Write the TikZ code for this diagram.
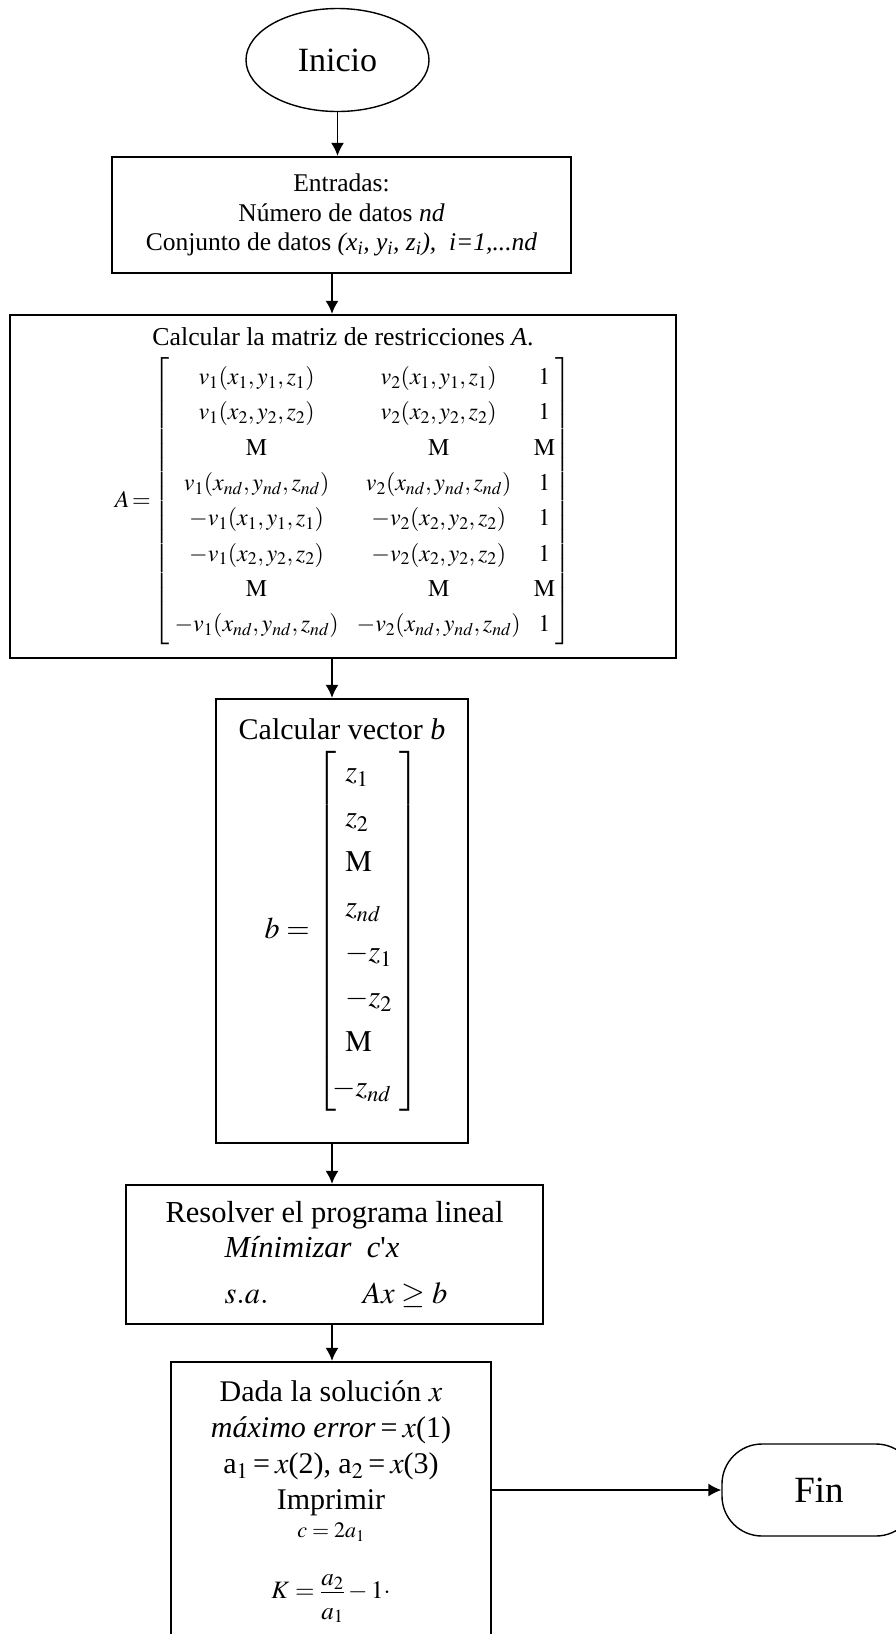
\documentclass[tikz,border=0pt]{standalone}
\usepackage{mathptmx}
\usepackage{fontspec}
\setmainfont{Liberation Serif}
\usetikzlibrary{arrows.meta}
\usetikzlibrary{shapes.geometric}

\tikzset{
  caja/.style={draw, line width=2.4pt, align=center, inner sep=0pt},
  terminal/.style={draw, line width=1.4pt, inner sep=0pt},
  flecha/.style={-{Latex[length=13pt,width=13pt]}, line width=1.4pt},
}
\newcommand{\tam}[2]{\fontsize{#1}{#2}\selectfont}
\newcommand{\bent}[1]{\makebox[54pt][l]{$#1$}}

\begin{document}
\begin{tikzpicture}[x=1pt, y=-1pt]
\useasboundingbox (0,0) rectangle (896,1634);
\coordinate (eje) at (332,0);

\node[terminal, ellipse, minimum width=183pt, minimum height=103pt, font=\tam{34}{40}] (inicio) at (337.5,60) {Inicio};

\node[caja, minimum width=459pt, minimum height=116pt, font=\tam{25.5}{29.5}] (entradas) at (341.5,215)
  {Entradas:\\ Número de datos \textit{nd}\\
   Conjunto de datos \textit{(x\textsubscript{i}, y\textsubscript{i}, z\textsubscript{i}),~~i=1,...nd}};

\node[caja, minimum width=666pt, minimum height=343pt, font=\tam{24}{35.3}] (matriz) at (343,486.5)
  {{\tam{25.8}{30}Calcular la matriz de restricciones \textit{A}.}\\[10pt]
   $A\!=\!\left[\begin{array}{@{\hspace{5pt}}c@{\hspace{18pt}}c@{\hspace{13pt}}c@{}}
     v_1(x_1,y_1,z_1) & v_2(x_1,y_1,z_1) & 1\\
     v_1(x_2,y_2,z_2) & v_2(x_2,y_2,z_2) & 1\\
     \mathrm{M} & \mathrm{M} & \mathrm{M}\\
     v_1(x_{nd},y_{nd},z_{nd}) & v_2(x_{nd},y_{nd},z_{nd}) & 1\\
     -v_1(x_1,y_1,z_1) & -v_2(x_2,y_2,z_2) & 1\\
     -v_1(x_2,y_2,z_2) & -v_2(x_2,y_2,z_2) & 1\\
     \mathrm{M} & \mathrm{M} & \mathrm{M}\\
     -v_1(x_{nd},y_{nd},z_{nd}) & -v_2(x_{nd},y_{nd},z_{nd}) & 1
   \end{array}\right]$};

\node[caja, minimum width=252pt, minimum height=444pt, font=\tam{30}{40}] (vector) at (342,921)
  {Calcular vector \textit{b}\\[10pt]
   \raisebox{0pt}[\height][\dimexpr\depth+12pt\relax]{%
   $b=\left[\begin{array}{@{\hspace{9pt}}l@{}}
     \bent{z_1}\\[5pt] \bent{z_2}\\[5pt] \bent{\mathrm{M}}\\[5pt] \bent{z_{nd}}\\[5pt]
     \bent{-z_1}\\[5pt] \bent{-z_2}\\[5pt] \bent{\mathrm{M}}\\[5pt]
     \hspace{-13pt}\bent{-z_{nd}}
   \end{array}\right]$}};

\node[caja, minimum width=417pt, minimum height=139pt, font=\tam{30.5}{35}] (lineal) at (334.5,1254.5)
  {Resolver el programa lineal\\
   \makebox[220pt][l]{\textit{Mínimizar}~~\textit{c}\textquotesingle\textit{x}}\\[11pt]
   \makebox[220pt][l]{$s.a.$\hspace{94pt}$Ax\geq b$}};

\node[caja, minimum width=320pt, minimum height=280pt, font=\tam{30}{36}] (solucion) at (331,1502)
  {Dada la solución $x$\\
   \textit{máximo error}\,=\,$x$(1)\\
   a$_1$\,=\,$x$(2), a$_2$\,=\,$x$(3)\\
   Imprimir\\[-8pt]
   {\tam{22}{28}$c=2a_1$}\\[25pt]
   {\tam{25}{30}$K=\displaystyle\frac{\raisebox{-5pt}{$a_2$}}{\raisebox{-3pt}{$a_1$}}-1\cdot$}};

\node[terminal, rounded corners=40pt, minimum width=194pt, minimum height=92pt, font=\tam{37}{44}] (fin) at (819,1490) {Fin};

\draw[flecha] (inicio) -- (inicio |- entradas.north);
\draw[flecha] (entradas.south -| eje) -- (matriz.north -| eje);
\draw[flecha] (matriz.south -| eje) -- (vector.north -| eje);
\draw[flecha] (vector.south -| eje) -- (lineal.north -| eje);
\draw[flecha] (lineal.south -| eje) -- (solucion.north -| eje);
\draw[flecha] (solucion.east |- fin) -- (fin.west);
\end{tikzpicture}
\end{document}
